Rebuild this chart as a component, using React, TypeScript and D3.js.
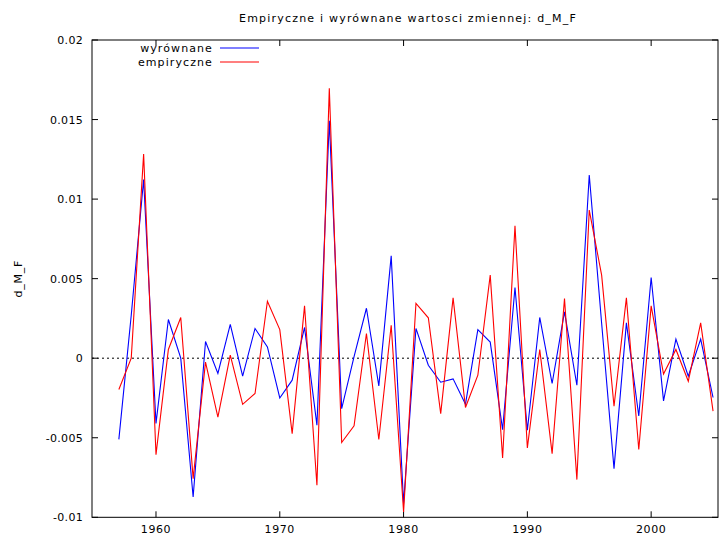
import React from "react";
import * as d3 from "d3";

const years: number[] = d3.range(1957, 2006);

const fitted: number[] = [
  -0.0051, 0.0027, 0.01123, -0.0041, 0.00243, 0.0, -0.00872, 0.00105, -0.00096, 0.00212,
  -0.00113, 0.00187, 0.00071, -0.0025, -0.00138, 0.00193, -0.00421, 0.01492, -0.00317, 0.0001,
  0.00314, -0.00174, 0.00643, -0.00914, 0.00187, -0.00044, -0.00151, -0.0013, -0.00289, 0.0018,
  0.00101, -0.00449, 0.00444, -0.00453, 0.00256, -0.00159, 0.00291, -0.0017, 0.01151, 0.0022,
  -0.00694, 0.00222, -0.00363, 0.00507, -0.00268, 0.0012, -0.00113, 0.0012, -0.00247,
];

const actual: number[] = [
  -0.00197, 0.0, 0.01283, -0.00606, 0.00055, 0.00256, -0.00757, -0.00025, -0.0037, 0.00019,
  -0.0029, -0.00222, 0.00358, 0.0018, -0.00474, 0.00329, -0.00799, 0.01696, -0.0053, -0.00425,
  0.00155, -0.00511, 0.00207, -0.00966, 0.00344, 0.00254, -0.00348, 0.00379, -0.0031, -0.00107,
  0.00522, -0.00627, 0.00832, -0.00564, 0.00055, -0.006, 0.00375, -0.00763, 0.00931, 0.00522,
  -0.00302, 0.00379, -0.00574, 0.00329, -0.001, 0.00055, -0.00145, 0.00222, -0.00333,
];

const yTicks: number[] = [-0.01, -0.005, 0, 0.005, 0.01, 0.015, 0.02];
const yTickLabels: string[] = ["-0.01", "-0.005", "0", "0.005", "0.01", "0.015", "0.02"];
const xTicks: number[] = [1960, 1970, 1980, 1990, 2000];

const title = "Empiryczne i wyrównane wartosci zmiennej: d_M_F";
const yLabel = "d_M_F";
const seriesNames: string[] = ["wyrównane", "empiryczne"];
const seriesColors: string[] = ["#0000ff", "#ff0000"];

const W = 719;
const H = 535;
const L = 92;
const R = 718;
const T = 40;
const B = 517.3;
const FONT = "'DejaVu Sans', sans-serif";

export default function App() {
  const x = d3.scaleLinear().domain([1954.83, 2005.4]).range([L, R]);
  const y = d3.scaleLinear().domain([-0.01, 0.02]).range([B, T]);
  const line = d3
    .line<number>()
    .x((_, i) => x(years[i]))
    .y((v) => y(v));
  const series = [fitted, actual];
  const tickLen = 6;

  return (
    <svg
      width={W}
      height={H}
      style={{ position: "absolute", left: 0, top: 0, background: "#fff" }}
      fontFamily={FONT}
    >
      <rect x={0} y={0} width={W} height={H} fill="#fff" />
      {/* zero line */}
      <line x1={L} x2={R} y1={y(0)} y2={y(0)} stroke="#000" strokeWidth={1} strokeDasharray="2,3" />
      {/* y ticks */}
      {yTicks.map((t, i) => (
        <g key={"y" + i}>
          <line x1={L} x2={L + tickLen} y1={y(t)} y2={y(t)} stroke="#000" />
          <line x1={R - tickLen} x2={R} y1={y(t)} y2={y(t)} stroke="#000" />
          <text x={L - 9} y={y(t) + 4} fontSize={11} textAnchor="end" fill="#000" letterSpacing={0.3}>
            {yTickLabels[i]}
          </text>
        </g>
      ))}
      {/* x ticks */}
      {xTicks.map((t, i) => (
        <g key={"x" + i}>
          <line x1={x(t)} x2={x(t)} y1={B} y2={B - tickLen} stroke="#000" />
          <line x1={x(t)} x2={x(t)} y1={T} y2={T + tickLen} stroke="#000" />
          <text x={x(t)} y={B + 15.5} fontSize={11} textAnchor="middle" fill="#000" letterSpacing={0.6}>
            {t}
          </text>
        </g>
      ))}
      {/* series */}
      {series.map((s, k) => (
        <path key={"s" + k} d={line(s) || ""} fill="none" stroke={seriesColors[k]} strokeWidth={1.1} />
      ))}
      {/* frame */}
      <rect x={L} y={T} width={R - L} height={B - T} fill="none" stroke="#000" strokeWidth={1} />
      {/* legend */}
      {seriesNames.map((n, k) => (
        <g key={"l" + k}>
          <text x={213} y={52 + k * 14} fontSize={11} textAnchor="end" fill="#000" letterSpacing={1.1}>
            {n}
          </text>
          <line x1={220} x2={259} y1={48 + k * 14} y2={48 + k * 14} stroke={seriesColors[k]} strokeWidth={1.1} />
        </g>
      ))}
      {/* title */}
      <text x={408} y={22} fontSize={11} textAnchor="middle" fill="#000" letterSpacing={1.2}>
        {title}
      </text>
      {/* y label */}
      <text
        transform={`translate(22, ${(T + B) / 2}) rotate(-90)`}
        fontSize={11}
        textAnchor="middle"
        fill="#000"
        letterSpacing={0.8}
      >
        {yLabel}
      </text>
    </svg>
  );
}
